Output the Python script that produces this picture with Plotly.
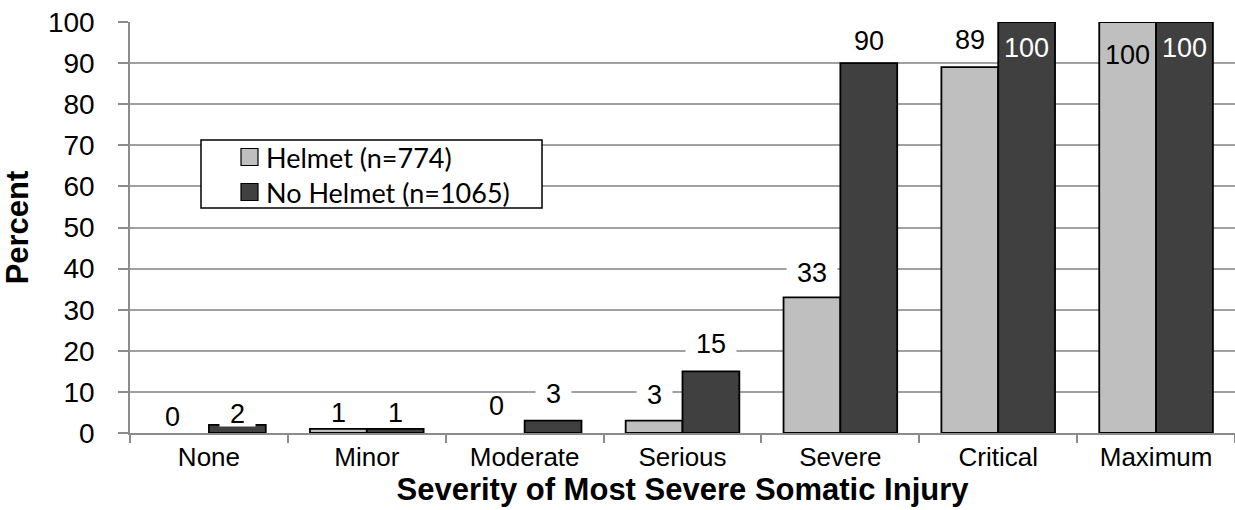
import plotly.graph_objects as go

# Share of riders with each injury outcome, by helmet use
categories = ["None", "Minor", "Moderate", "Serious", "Severe", "Critical", "Maximum"]
helmet = [0, 1, 0, 3, 33, 89, 100]
no_helmet = [2, 1, 3, 15, 90, 100, 100]
series_names = ["Helmet (n=774)", "No Helmet (n=1065)"]
y_ticks = list(range(0, 101, 10))

LIGHT = "#bfbfbf"
DARK = "#404040"
FONT = "Liberation Sans, Arial, sans-serif"
LEGEND_FONT = "Lato, Carlito, sans-serif"

W, H = 1235, 510
M_L, M_R, M_T, M_B = 130, 0, 22, 77
PW, PH = W - M_L - M_R, H - M_T - M_B


def px_x(px):
    return (px - M_L) / PW


def px_y(py):
    return (H - M_B - py) / PH


fig = go.Figure()
for name, vals, color in [(series_names[0], helmet, LIGHT), (series_names[1], no_helmet, DARK)]:
    fig.add_trace(go.Bar(
        x=categories, y=vals, name=name,
        marker=dict(color=color,
                    line=dict(color="black", width=[0 if v == 0 else 1.8 for v in vals])),
        hoverinfo="x+y", showlegend=False,
    ))

# value labels: vertical offset of label centre above each bar top (px)
label_dy = {
    0: [16, 16, 27, 26, 24, 27, -33],
    1: [11, 16, 27, 27, 22, -26, -26],
}
label_dx = {
    0: [-8, 0, 0, 0, 0, 0, 0],
    1: [0, 0, 0, 0, 0, 0, 0],
}
bar_offset = 28.5  # half a bar width, in px
for s, vals in enumerate([helmet, no_helmet]):
    for i, v in enumerate(vals):
        txt = f"{v:.0f}"
        inside = label_dy[s][i] < 0
        color = "white" if (inside and s == 1) else "black"
        fig.add_annotation(
            x=categories[i], y=v, xref="x", yref="y",
            xshift=(-bar_offset if s == 0 else bar_offset) + label_dx[s][i],
            yshift=label_dy[s][i],
            text=txt, showarrow=False, yanchor="middle",
            font=dict(family=FONT, size=27, color=color),
            bgcolor=None if inside else "white",
            width=None if inside else 15 * len(txt) + 20,
            height=None if inside else 24,
            borderpad=0,
        )

# legend box drawn by hand
fig.add_shape(type="rect", xref="paper", yref="paper",
              x0=px_x(201), x1=px_x(542), y0=px_y(208), y1=px_y(140),
              line=dict(color="black", width=1.5), fillcolor="white", layer="above")
for name, color, yc in [(series_names[0], LIGHT, 157), (series_names[1], DARK, 192)]:
    fig.add_shape(type="rect", xref="paper", yref="paper",
                  x0=px_x(241), x1=px_x(258), y0=px_y(yc + 8.5), y1=px_y(yc - 8.5),
                  line=dict(color="black", width=1.2), fillcolor=color, layer="above")
    fig.add_annotation(xref="paper", yref="paper", x=px_x(264), y=px_y(yc),
                       xanchor="left", yanchor="middle", showarrow=False, text=name,
                       font=dict(family=LEGEND_FONT, size=27, color="black"))

fig.update_layout(
    width=W, height=H,
    margin=dict(l=M_L, r=M_R, t=M_T, b=M_B),
    paper_bgcolor="white", plot_bgcolor="white",
    barmode="group", bargap=0.28, bargroupgap=0,
    font=dict(family=FONT, size=26, color="black"),
    showlegend=False,
)
fig.update_xaxes(
    type="category", tickson="boundaries", ticks="outside", ticklen=8,
    tickcolor="#8c8c8c", tickwidth=1.5,
    showline=True, linecolor="#8c8c8c", linewidth=1.5,
    showgrid=False, tickfont=dict(size=26),
    title=dict(text="<b>Severity of Most Severe Somatic Injury</b>",
               font=dict(size=31), standoff=4),
)
fig.update_yaxes(
    range=[0, 100], tickvals=y_ticks, ticks="outside", ticklen=10,
    tickcolor="#8c8c8c", tickwidth=1.5,
    showline=True, linecolor="#8c8c8c", linewidth=1.5,
    showgrid=True, gridcolor="#a0a0a0", gridwidth=1.5,
    zeroline=False, tickfont=dict(size=28), ticklabelstandoff=18,
    title=dict(text="<b>Percent</b>", font=dict(size=31), standoff=10),
)

fig.write_html("out.html")
